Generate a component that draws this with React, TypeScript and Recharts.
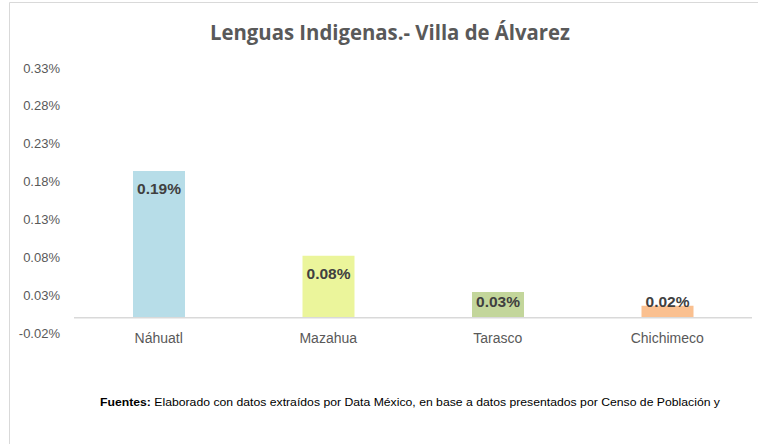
import React from "react";
import { BarChart, Bar, XAxis, YAxis, Cell, LabelList, ReferenceLine } from "recharts";

const categories = ["Náhuatl", "Mazahua", "Tarasco", "Chichimeco"];
const values = [0.194, 0.082, 0.034, 0.016];
const barColors = ["#b7dde8", "#ebf59b", "#c3d69b", "#fac090"];
const yTicks = [-0.02, 0.03, 0.08, 0.13, 0.18, 0.23, 0.28, 0.33];
const title = "Lenguas Indigenas.- Villa de Álvarez";
const sourceLabel = "Fuentes:";
const sourceText =
  " Elaborado con datos extraídos por Data México, en base a datos presentados por Censo de Población y";

const data = categories.map((name, i) => ({ name, value: values[i] }));

const fmt = (v: number) => `${v.toFixed(2)}%`;

const BarValueLabel = (props: any) => {
  const { x, y, width, height, value } = props;
  const cx = Number(x) + Number(width) / 2;
  const cy = Math.min(Number(y) + 18, Number(y) + Number(height) - 16);
  return (
    <text
      x={cx}
      y={cy}
      textAnchor="middle"
      dominantBaseline="central"
      fontFamily="'Liberation Sans', Arial, sans-serif"
      fontWeight="bold"
      fontSize={15.5}
      fill="#404040"
    >
      {fmt(Number(value))}
    </text>
  );
};

export default function App() {
  return (
    <div
      style={{
        position: "absolute",
        left: 0,
        top: 0,
        width: 758,
        height: 444,
        background: "#ffffff",
        overflow: "hidden",
      }}
    >
      <BarChart
        width={758}
        height={444}
        data={data}
        margin={{ top: 68, right: 6, bottom: 81, left: 0 }}
      >
        <YAxis
          width={74}
          domain={[-0.02, 0.33]}
          ticks={yTicks}
          tickFormatter={fmt}
          axisLine={false}
          tickLine={false}
          tickSize={0}
          tickMargin={14}
          interval={0}
          tick={{ fill: "#595959", fontSize: 13, fontFamily: "'Liberation Sans', Arial, sans-serif" }}
        />
        <XAxis
          dataKey="name"
          height={30}
          axisLine={false}
          tickLine={false}
          tickSize={0}
          tickMargin={0}
          interval={0}
          tick={{ fill: "#595959", fontSize: 14, fontFamily: "'Liberation Sans', Arial, sans-serif" }}
        />
        <ReferenceLine y={0} stroke="#d9d9d9" strokeWidth={1.5} ifOverflow="extendDomain" />
        <Bar dataKey="value" barSize={52} isAnimationActive={false}>
          {data.map((d, i) => (
            <Cell key={d.name} fill={barColors[i]} />
          ))}
          <LabelList dataKey="value" content={BarValueLabel} />
        </Bar>
      </BarChart>
      <svg
        width={758}
        height={444}
        style={{ position: "absolute", left: 0, top: 0, pointerEvents: "none" }}
      >
        <line x1={9.5} y1={2.5} x2={758} y2={2.5} stroke="#d9d9d9" strokeWidth={1} />
        <line x1={9.5} y1={2.5} x2={9.5} y2={444} stroke="#d9d9d9" strokeWidth={1} />
        <text
          x={390}
          y={39.5}
          textAnchor="middle"
          fontFamily="'Open Sans', 'Noto Sans', sans-serif"
          fontWeight={700}
          fontSize={22}
          fill="#595959"
          textLength={360}
          lengthAdjust="spacingAndGlyphs"
        >
          {title}
        </text>
        <text
          x={100}
          y={405.5}
          fontFamily="'Liberation Sans', Arial, sans-serif"
          fontSize={10.5}
          fill="#000000"
          textLength={620}
          lengthAdjust="spacingAndGlyphs"
        >
          <tspan fontWeight="bold">{sourceLabel}</tspan>
          <tspan>{sourceText}</tspan>
        </text>
      </svg>
    </div>
  );
}
